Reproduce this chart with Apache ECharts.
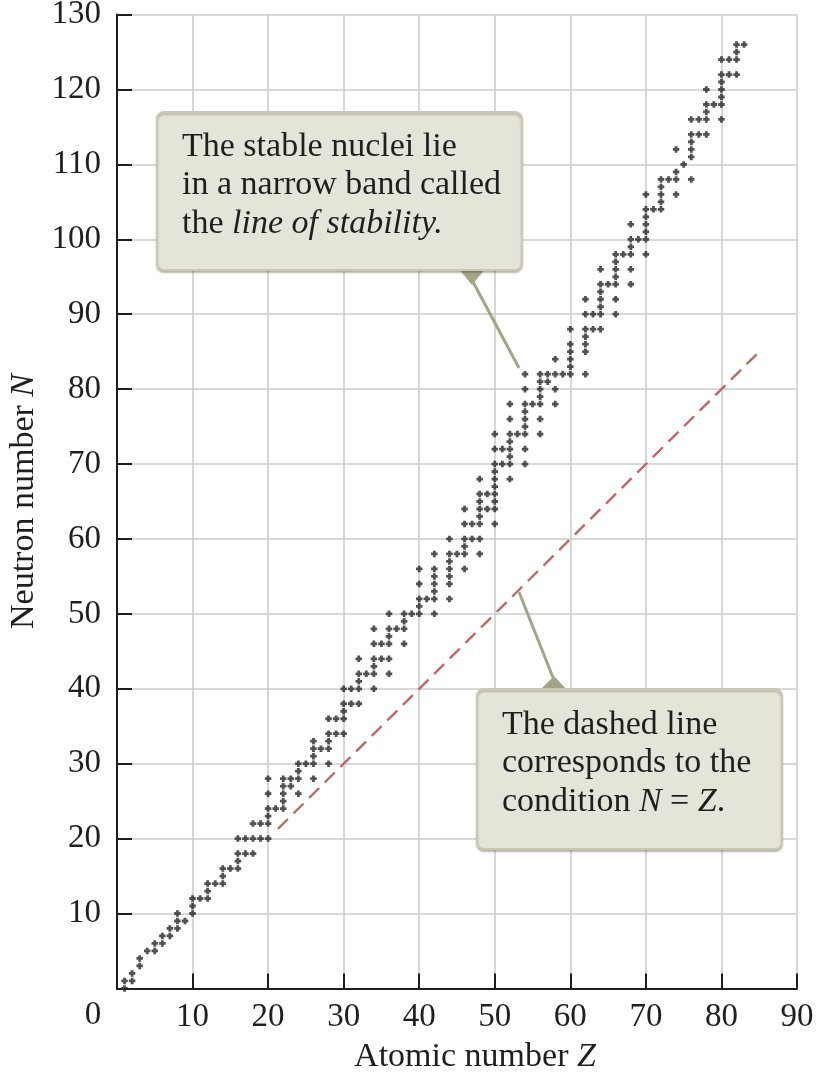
<!DOCTYPE html>
<html>
<head>
<meta charset="utf-8">
<script src="https://cdn.jsdelivr.net/npm/echarts@6/dist/echarts.min.js"></script>
<style>
  html, body { margin: 0; padding: 0; background: #ffffff; }
  #chart { width: 819px; height: 1075px; }
</style>
</head>
<body>
<div id="chart"></div>
<script>
// Stable nuclei, grouped by atomic number: each entry is [Z, [neutron numbers]]
const nucleiZ1to20 = [
  [1, [0, 1]], [2, [1, 2]], [3, [3, 4]], [4, [5]], [5, [5, 6]],
  [6, [6, 7]], [7, [7, 8]], [8, [8, 9, 10]], [9, [9]], [10, [10, 11, 12]],
  [11, [12]], [12, [12, 13, 14]], [13, [14]], [14, [14, 15, 16]], [15, [16]],
  [16, [16, 17, 18, 20]], [17, [18, 20]], [18, [18, 20, 22]], [19, [20, 22]],
  [20, [20, 22, 23, 24, 26, 28]]
];
const nucleiZ21to40 = [
  [21, [24]], [22, [24, 25, 26, 27, 28]], [23, [27, 28]], [24, [26, 28, 29, 30]],
  [25, [30]], [26, [28, 30, 31, 32, 33]], [27, [32]], [28, [30, 32, 33, 34, 36]],
  [29, [34, 36]], [30, [34, 36, 37, 38, 40]], [31, [38, 40]], [32, [38, 40, 41, 42, 44]],
  [33, [42]], [34, [40, 42, 43, 44, 46, 48]], [35, [44, 46]], [36, [42, 44, 46, 47, 48, 50]],
  [37, [48]], [38, [46, 48, 49, 50]], [39, [50]], [40, [50, 51, 52, 54, 56]]
];
const nucleiZ41to60 = [
  [41, [52]], [42, [50, 52, 53, 54, 55, 56, 58]], [44, [52, 54, 55, 56, 57, 58, 60]],
  [45, [58]], [46, [56, 58, 59, 60, 62, 64]], [47, [60, 62]],
  [48, [58, 60, 62, 63, 64, 65, 66, 68]], [49, [64, 66]],
  [50, [62, 64, 65, 66, 67, 68, 69, 70, 72, 74]], [51, [70, 72]],
  [52, [68, 70, 71, 72, 73, 74, 76, 78]], [53, [74]],
  [54, [70, 72, 74, 75, 76, 77, 78, 80, 82]], [55, [78]],
  [56, [74, 76, 78, 79, 80, 81, 82]], [57, [81, 82]], [58, [78, 80, 82, 84]],
  [59, [82]], [60, [82, 83, 84, 85, 86, 88]]
];
const nucleiZ61to83 = [
  [62, [82, 85, 86, 87, 88, 90, 92]], [63, [88, 90]], [64, [88, 90, 91, 92, 93, 94, 96]],
  [65, [94]], [66, [90, 92, 94, 95, 96, 97, 98]], [67, [98]],
  [68, [94, 96, 98, 99, 100, 102]], [69, [100]], [70, [98, 100, 101, 102, 103, 104, 106]],
  [71, [104]], [72, [104, 105, 106, 107, 108]], [73, [108]], [74, [106, 108, 109, 112]],
  [75, [110]], [76, [108, 111, 112, 113, 114, 116]], [77, [114, 116]],
  [78, [114, 116, 117, 118, 120]], [79, [118]], [80, [116, 118, 119, 120, 121, 122, 124]],
  [81, [122, 124]], [82, [122, 124, 125, 126]], [83, [126]]
];

// Extent of the N = Z reference line along the Z axis
const equalLineZ = [21.3, 84.8];

// Axis ranges
const zAxisRange = [0, 90];
const nAxisRange = [0, 130];
const tickStep = 10;

const points = [];
[nucleiZ1to20, nucleiZ21to40, nucleiZ41to60, nucleiZ61to83].forEach(group => {
  group.forEach(([z, ns]) => ns.forEach(n => points.push([z, n])));
});
const equalLine = equalLineZ.map(z => [z, z]);

const SERIF = '"Liberation Serif", "Times New Roman", Times, serif';
const INK = '#1f1f1f';
const BOX_FILL = '#e5e4d9';
const BOX_EDGE = '#cac8b2';
const POINTER = '#a6a487';

const chart = echarts.init(document.getElementById('chart'), null, { renderer: 'canvas' });

chart.setOption({
  animation: false,
  backgroundColor: '#ffffff',
  grid: {
    left: 117, right: 22, top: 14.6, bottom: 86.6,
    containLabel: false, outerBoundsMode: 'none'
  },
  xAxis: {
    type: 'value',
    min: zAxisRange[0], max: zAxisRange[1], interval: tickStep,
    axisLine: { show: true, onZero: false, lineStyle: { color: '#1e1e1e', width: 2 } },
    axisTick: { show: true, inside: true, length: 15, lineStyle: { color: '#1e1e1e', width: 2 } },
    axisLabel: { showMinLabel: false, margin: 12, fontFamily: SERIF, fontSize: 33, color: INK },
    splitLine: { show: true, showMinLine: true, showMaxLine: true, lineStyle: { color: '#cdcdcd', width: 1.6 } },
    name: 'Atomic number {i|Z}',
    nameLocation: 'middle',
    nameGap: 52,
    nameTextStyle: {
      fontFamily: SERIF, fontSize: 34, color: INK, padding: [0, 0, 0, 36],
      rich: { i: { fontFamily: SERIF, fontSize: 34, fontStyle: 'italic', color: INK } }
    }
  },
  yAxis: {
    type: 'value',
    min: nAxisRange[0], max: nAxisRange[1], interval: tickStep,
    axisLine: { show: true, onZero: false, lineStyle: { color: '#1e1e1e', width: 2 } },
    axisTick: { show: true, inside: true, length: 15, lineStyle: { color: '#1e1e1e', width: 2 } },
    axisLabel: { showMinLabel: false, margin: 16, fontFamily: SERIF, fontSize: 33, color: INK },
    splitLine: { show: true, showMinLine: true, showMaxLine: true, lineStyle: { color: '#cdcdcd', width: 1.6 } },
    name: 'Neutron number {i|N}',
    nameLocation: 'middle',
    nameGap: 64,
    nameTextStyle: {
      fontFamily: SERIF, fontSize: 34, color: INK,
      rich: { i: { fontFamily: SERIF, fontSize: 34, fontStyle: 'italic', color: INK } }
    }
  },
  series: [
    {
      type: 'line',
      data: equalLine,
      symbol: 'none',
      silent: true,
      z: 1,
      lineStyle: { color: '#bf6a60', width: 2.4, type: [14, 8] }
    },
    {
      type: 'scatter',
      data: points,
      symbol: 'path://M2,0H5V2H7V5H5V7H2V5H0V2H2Z',
      symbolSize: 6.5,
      z: 2,
      itemStyle: { color: '#262626' }
    }
  ],
  graphic: [
    // shared origin label
    {
      type: 'text', x: 93, y: 1015, z: 10,
      style: { text: '0', font: '33px ' + SERIF, fill: INK, align: 'center', verticalAlign: 'middle' }
    },
    // callout: line of stability
    {
      type: 'line', z: 20,
      shape: { x1: 472, y1: 280, x2: 519, y2: 368 },
      style: { stroke: POINTER, lineWidth: 3 }
    },
    {
      type: 'polygon', z: 21,
      shape: { points: [[458, 268], [486, 268], [472, 285]] },
      style: { fill: POINTER }
    },
    {
      type: 'rect', z: 22,
      shape: { x: 157, y: 112, width: 365, height: 158, r: 7 },
      style: {
        fill: BOX_FILL, stroke: BOX_EDGE, lineWidth: 2,
        shadowColor: 'rgba(90,88,60,0.35)', shadowBlur: 2, shadowOffsetY: 2
      }
    },
    {
      type: 'text', x: 182, y: 128, z: 23,
      style: {
        text: '{n|The stable nuclei lie}\n{n|in a narrow band called}\n{n|the }{i|line of stability.}',
        fill: INK, align: 'left', verticalAlign: 'top',
        rich: {
          n: { fontFamily: SERIF, fontSize: 34, lineHeight: 38.3, fill: INK },
          i: { fontFamily: SERIF, fontSize: 34, fontStyle: 'italic', lineHeight: 38.3, fill: INK }
        }
      }
    },
    // callout: N = Z line
    {
      type: 'line', z: 20,
      shape: { x1: 554, y1: 680, x2: 519, y2: 592 },
      style: { stroke: POINTER, lineWidth: 3 }
    },
    {
      type: 'polygon', z: 21,
      shape: { points: [[539, 691], [568, 691], [554, 676]] },
      style: { fill: POINTER }
    },
    {
      type: 'rect', z: 22,
      shape: { x: 477, y: 689, width: 305, height: 160, r: 7 },
      style: {
        fill: BOX_FILL, stroke: BOX_EDGE, lineWidth: 2,
        shadowColor: 'rgba(90,88,60,0.35)', shadowBlur: 2, shadowOffsetY: 2
      }
    },
    {
      type: 'text', x: 502, y: 706, z: 23,
      style: {
        text: '{n|The dashed line}\n{n|corresponds to the}\n{n|condition }{i|N}{n| = }{i|Z}{n|.}',
        fill: INK, align: 'left', verticalAlign: 'top',
        rich: {
          n: { fontFamily: SERIF, fontSize: 34, lineHeight: 38.3, fill: INK },
          i: { fontFamily: SERIF, fontSize: 34, fontStyle: 'italic', lineHeight: 38.3, fill: INK }
        }
      }
    }
  ]
});
</script>
</body>
</html>
